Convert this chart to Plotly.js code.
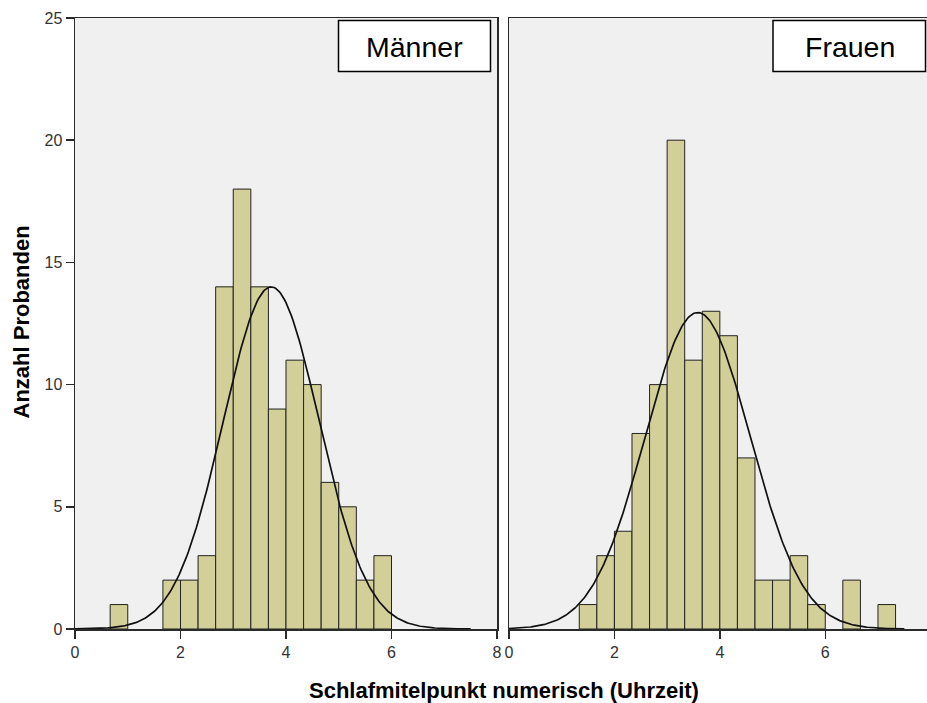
<!DOCTYPE html>
<html>
<head>
<meta charset="utf-8">
<script src="https://cdn.plot.ly/plotly-3.0.1.min.js"></script>
<style>html,body{margin:0;padding:0;background:#fff;}#chart{width:927px;height:703px;}</style>
</head>
<body>
<div id="chart"></div>
<script>
// Histogram bins: lower edges (hours), bin width 1/3 h
var binWidth = 1/3;
var menBinStart = [0.6667, 1.6667, 2.0, 2.3333, 2.6667, 3.0, 3.3333, 3.6667, 4.0, 4.3333, 4.6667, 5.0, 5.3333, 5.6667];
var menCounts   = [1, 2, 2, 3, 14, 18, 14, 9, 11, 10, 6, 5, 2, 3];
var womenBinStart = [1.3333, 1.6667, 2.0, 2.3333, 2.6667, 3.0, 3.3333, 3.6667, 4.0, 4.3333, 4.6667, 5.0, 5.3333, 5.6667, 6.3333, 7.0];
var womenCounts   = [1, 3, 4, 8, 10, 20, 11, 13, 12, 7, 2, 2, 3, 1, 2, 1];
// Fitted normal curves (peak height, mean, sd)
var menFit = {peak: 14.0, mean: 3.72, sd: 0.91};
var womenFit = {peak: 12.95, mean: 3.58, sd: 1.0};
var xTicks = [0, 2, 4, 6, 8];
var yTicks = [0, 5, 10, 15, 20, 25];
var panelLabels = ["Männer", "Frauen"];
var xTitle = "Schlafmitelpunkt numerisch (Uhrzeit)";
var yTitle = "Anzahl Probanden";

function normalCurve(fit) {
  var xs = [], ys = [];
  for (var i = 0; i <= 300; i++) {
    var x = 7.5 * i / 300;
    xs.push(x);
    ys.push(fit.peak * Math.exp(-Math.pow(x - fit.mean, 2) / (2 * fit.sd * fit.sd)));
  }
  return {x: xs, y: ys};
}

var barColor = '#d3cf98';
var lineColor = '#2a2a2a';
var mc = normalCurve(menFit), wc = normalCurve(womenFit);

var traces = [
  {type: 'bar', x: menBinStart, y: menCounts, width: binWidth, offset: 0,
   marker: {color: barColor, line: {color: '#222', width: 1}}, xaxis: 'x', yaxis: 'y', hoverinfo: 'x+y'},
  {type: 'bar', x: womenBinStart, y: womenCounts, width: binWidth, offset: 0,
   marker: {color: barColor, line: {color: '#222', width: 1}}, xaxis: 'x2', yaxis: 'y2', hoverinfo: 'x+y'},
  {type: 'scatter', mode: 'lines', x: mc.x, y: mc.y, line: {color: '#111', width: 1.7}, xaxis: 'x', yaxis: 'y'},
  {type: 'scatter', mode: 'lines', x: wc.x, y: wc.y, line: {color: '#111', width: 1.7}, xaxis: 'x2', yaxis: 'y2'}
];

var L = 75, R = 927, T = 18, B = 629;
function px(x) { return (x - L) / (R - L); }
function py(y) { return (B - y) / (B - T); }

var fam = 'Arial, "Liberation Sans", sans-serif';
var tickFont = {family: fam, size: 16, color: '#333'};
var axBase = {showgrid: false, zeroline: false, showline: true, linecolor: lineColor, linewidth: 1.5,
  ticks: 'outside', ticklen: 8, tickwidth: 1.5, tickcolor: lineColor, tickfont: tickFont, fixedrange: true};

var layout = {
  width: 927, height: 703,
  margin: {l: L, r: 0, t: T, b: 703 - B, pad: 0},
  paper_bgcolor: '#ffffff', plot_bgcolor: '#f0f0f0',
  showlegend: false, bargap: 0,
  font: {family: fam, color: '#333'},
  xaxis: Object.assign({}, axBase, {domain: [0, px(497)], range: [0, 8], tickvals: xTicks, ticktext: xTicks.map(String), mirror: true, anchor: 'y'}),
  xaxis2: Object.assign({}, axBase, {domain: [px(509), 1], range: [0, 7.93], tickvals: xTicks.slice(0, 4), ticktext: xTicks.slice(0, 4).map(String), mirror: true, anchor: 'y2'}),
  yaxis: Object.assign({}, axBase, {domain: [0, 1], range: [0, 25], tickvals: yTicks, ticktext: yTicks.map(String), mirror: true, anchor: 'x'}),
  yaxis2: Object.assign({}, axBase, {domain: [0, 1], range: [0, 25], showticklabels: false, ticks: '', mirror: false, anchor: 'x2'}),
  shapes: [
    {type: 'rect', xref: 'paper', yref: 'paper', x0: px(338.5), x1: px(490.5), y0: py(71.5), y1: py(20.5),
     fillcolor: '#ffffff', line: {color: '#000', width: 1.5}, layer: 'above'},
    {type: 'rect', xref: 'paper', yref: 'paper', x0: px(773), x1: px(925.5), y0: py(71.5), y1: py(20.5),
     fillcolor: '#ffffff', line: {color: '#000', width: 1.5}, layer: 'above'}
  ],
  annotations: [
    {xref: 'paper', yref: 'paper', x: px(414.5), y: py(47), text: panelLabels[0], showarrow: false,
     xanchor: 'center', yanchor: 'middle', font: {family: fam, size: 28.5, color: '#000'}},
    {xref: 'paper', yref: 'paper', x: px(849.5), y: py(47), text: panelLabels[1], showarrow: false,
     xanchor: 'center', yanchor: 'middle', font: {family: fam, size: 28.5, color: '#000'}},
    {xref: 'paper', yref: 'paper', x: px(931), y: py(650), text: '8', showarrow: false,
     xanchor: 'center', yanchor: 'middle', font: tickFont},
    {xref: 'paper', yref: 'paper', x: px(503.5), y: py(690), text: '<b>' + xTitle + '</b>', showarrow: false,
     xanchor: 'center', yanchor: 'middle', font: {family: fam, size: 22, color: '#000'}},
    {xref: 'paper', yref: 'paper', x: px(21), y: py(322.5), text: '<b>' + yTitle + '</b>', showarrow: false, textangle: -90,
     xanchor: 'center', yanchor: 'middle', font: {family: fam, size: 22, color: '#000'}}
  ]
};

Plotly.newPlot('chart', traces, layout, {displayModeBar: false, staticPlot: true});
</script>
</body>
</html>
